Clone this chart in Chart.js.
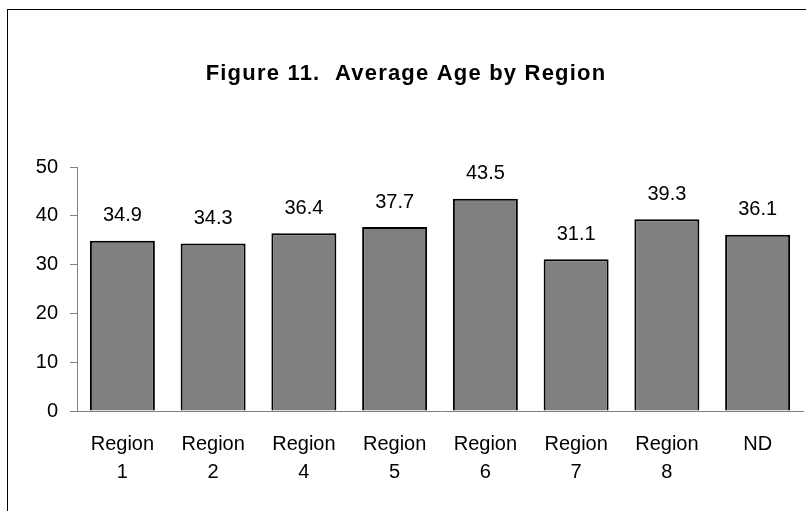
<!DOCTYPE html>
<html>
<head>
<meta charset="utf-8">
<script src="https://cdn.jsdelivr.net/npm/chart.js@4.4.1/dist/chart.umd.min.js"></script>
<style>
  body { margin: 0; background: #fff; overflow: hidden; }
  #frame { position: absolute; left: 7px; top: 9px; width: 900px; height: 600px; border: 1px solid #000; }
  canvas { position: absolute; left: 0; top: 0; }
</style>
</head>
<body>
<div id="frame"></div>
<canvas id="ageChart" width="806" height="511"></canvas>
<script>
// Datos
const regions = [['Region', '1'], ['Region', '2'], ['Region', '4'], ['Region', '5'], ['Region', '6'], ['Region', '7'], ['Region', '8'], 'ND'];
const averageAge = [34.9, 34.3, 36.4, 37.7, 43.5, 31.1, 39.3, 36.1];
const yTicks = [0, 10, 20, 30, 40, 50];
const chartTitle = 'Figure 11.  Average Age by Region';

const fontFamily = '"Liberation Sans", Arial, sans-serif';

// Título con espaciado entre letras y etiquetas de valor encima de las barras
const extraText = {
  id: 'extraText',
  afterDraw(chart) {
    const ctx = chart.ctx;
    ctx.save();
    ctx.fillStyle = '#000';
    ctx.textAlign = 'center';
    ctx.textBaseline = 'middle';
    ctx.font = 'bold 22px ' + fontFamily;
    ctx.letterSpacing = '1.2px';
    ctx.fillText(chartTitle, chart.width / 2 + 3, 74);
    ctx.letterSpacing = '0px';
    ctx.font = '20px ' + fontFamily;
    chart.getDatasetMeta(0).data.forEach((bar, i) => {
      ctx.fillText(averageAge[i].toFixed(1), bar.x, bar.y - 25);
    });
    ctx.restore();
  }
};

const ctx = document.getElementById('ageChart').getContext('2d');
const ageChart = new Chart(ctx, {
  type: 'bar',
  data: {
    labels: regions,
    datasets: [{
      data: averageAge,
      backgroundColor: '#808080',
      borderColor: '#000',
      borderWidth: 2,
      categoryPercentage: 1,
      barPercentage: 0.716
    }]
  },
  options: {
    responsive: false,
    animation: false,
    layout: { padding: { left: 0, right: 3, top: 167, bottom: 0 } },
    plugins: {
      legend: { display: false },
      tooltip: { enabled: false },
      title: { display: false }
    },
    scales: {
      x: {
        grid: { display: false, drawTicks: false },
        border: { display: true, color: '#808080', width: 1 },
        ticks: {
          color: '#000',
          padding: 19,
          maxRotation: 0,
          autoSkip: false,
          font: { family: fontFamily, size: 20, lineHeight: 1.4 }
        },
        afterFit(scale) { scale.height = 100; }
      },
      y: {
        min: 0,
        max: 50,
        afterBuildTicks(scale) { scale.ticks = yTicks.map(v => ({ value: v })); },
        grid: { display: true, drawOnChartArea: false, drawTicks: true, tickLength: 7, color: '#808080' },
        border: { display: true, color: '#808080', width: 1 },
        ticks: {
          color: '#000',
          padding: 12,
          font: { family: fontFamily, size: 20 }
        },
        afterFit(scale) { scale.width = 77; }
      }
    }
  },
  plugins: [extraText]
});
</script>
</body>
</html>
